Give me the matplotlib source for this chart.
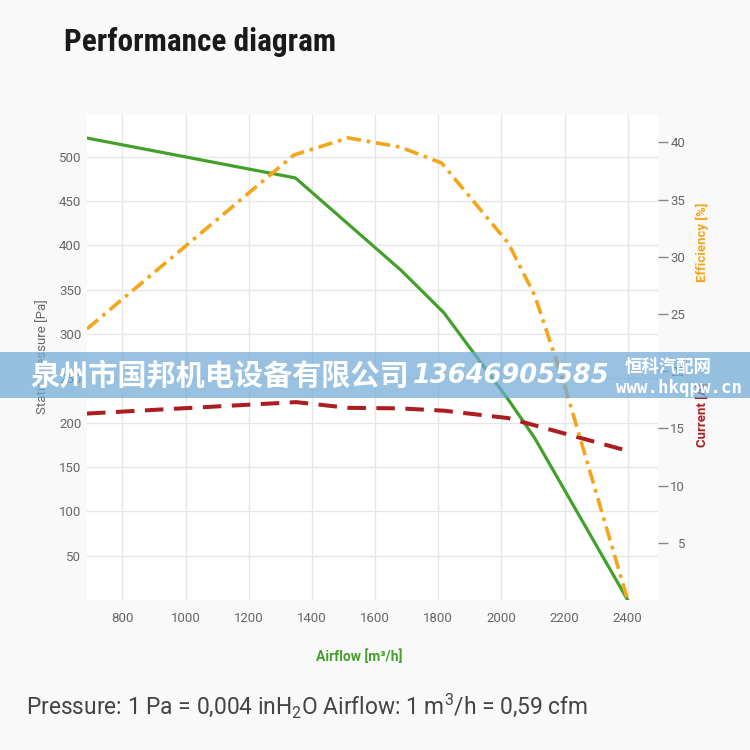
import matplotlib
matplotlib.use("Agg")
import matplotlib.pyplot as plt
from matplotlib import font_manager as fm

def pick(*names):
    avail = {f.name for f in fm.fontManager.ttflist}
    for n in names:
        if n in avail:
            return n
    return "DejaVu Sans"

TITLE_FONT = pick("Liberation Sans Narrow", "Roboto Condensed", "DejaVu Sans")
BASE_FONT = pick("Roboto", "Open Sans", "DejaVu Sans")
plt.rcParams["font.family"] = [BASE_FONT, "DejaVu Sans"]
plt.rcParams["mathtext.fontset"] = "custom"
plt.rcParams["mathtext.rm"] = BASE_FONT

# ---- data ----
pressure_x = [688, 1348, 1682, 1818, 2022, 2105, 2400]
pressure_y = [521, 476, 372, 324, 226, 183, 0]

eff_x = [688, 1343, 1515, 1679, 1811, 2022, 2106, 2200, 2400]
eff_y = [23.7, 38.9, 40.4, 39.6, 38.2, 31.2, 26.6, 18.8, 0]

cur_x = [688, 1350, 1515, 1680, 1818, 2022, 2405]
cur_y = [16.3, 17.3, 16.8, 16.75, 16.55, 15.9, 13.0]

x_ticks = [800, 1000, 1200, 1400, 1600, 1800, 2000, 2200, 2400]
left_ticks = [50, 100, 150, 200, 250, 300, 350, 400, 450, 500]
right_ticks = [5, 10, 15, 20, 25, 30, 35, 40]

GREEN = "#43a02a"
ORANGE = "#f5a519"
RED = "#ad1d1f"
GRAY = "#666666"

fig = plt.figure(figsize=(7.5, 7.5), dpi=100, facecolor="#f9f9fa")
ax = fig.add_axes([87/750, 1-600/750, (658-87)/750, (600-115)/750])
ax.set_facecolor("white")
ax.set_xlim(688, 2496)
ax.set_ylim(0, 547)
ax.set_xticks(x_ticks)
ax.set_yticks(left_ticks)
ax.grid(True, color="#e6e6e6", lw=1)
ax.set_axisbelow(True)
for s in ax.spines.values():
    s.set_visible(False)
ax.tick_params(axis="both", length=0, labelcolor=GRAY, labelsize=9.5)
ax.tick_params(axis="y", pad=4)
ax.tick_params(axis="x", pad=9)

ax2 = ax.twinx()
ax2.set_ylim(0, 42.4)
ax2.set_yticks(right_ticks)
for s in ax2.spines.values():
    s.set_visible(False)
ax2.tick_params(axis="y", length=7, width=1, color="#888888", labelcolor=GRAY,
                labelsize=9.5, pad=12.5)
plt.setp(ax2.get_yticklabels(), ha="right")

ax.plot(pressure_x, pressure_y, color=GREEN, lw=2.3, solid_joinstyle="round", zorder=3)
ax2.plot(eff_x, eff_y, color=ORANGE, lw=2.6, dashes=(4, 1.6, 1, 1.6),
         dash_capstyle="butt", zorder=3)
ax2.plot(cur_x, cur_y, color=RED, lw=2.9, dashes=(4.6, 2.6),
         dash_capstyle="butt", zorder=2)

# axis titles
fig.text(42/750, 1-357/750, "Static pressure [Pa]", rotation=90, ha="center",
         va="center", color=GRAY, fontsize=9.5)
fig.text(702/750, 1-242/750, "Efficiency [%]", rotation=90, ha="center",
         va="center", color=ORANGE, fontsize=9.5, fontweight="bold")
fig.text(702/750, 1-415/750, "Current [A]", rotation=90, ha="center",
         va="center", color=RED, fontsize=9.5, fontweight="bold")
fig.text(359/750, 1-657/750, "Airflow [m³/h]", ha="center", va="center",
         color=GREEN, fontsize=10, fontweight="bold")

fig.text(64/750, 1-42/750, "Performance diagram", ha="left", va="center",
         color="#1a1a1a", fontsize=22.5, fontweight="bold", family=TITLE_FONT)

fig.text(26/750, 1-705/750,
         r"Pressure: 1 Pa = 0,004 inH$_\mathregular{2}$O Airflow: 1 m$^\mathregular{3}$/h = 0,59 cfm",
         ha="left", va="center", color="#444444", fontsize=16.4)

# watermark band
band = plt.Rectangle((0, 1-398/750), 1, 46/750, transform=fig.transFigure,
                     facecolor=(112/255, 170/255, 215/255), alpha=0.72,
                     edgecolor="none", zorder=10)
fig.patches.append(band)
fig.text(30/750, 1-376/750, "泉州市国邦机电设备有限公司", ha="left", va="center",
         color="white", fontsize=21, fontweight="bold",
         family=["Noto Sans CJK SC", "DejaVu Sans"], zorder=11)
fig.text(413/750, 1-376/750, "13646905585", ha="left", va="center",
         color="white", fontsize=18.5, fontweight="bold", fontstyle="italic",
         family="DejaVu Sans", zorder=11)
fig.text(668/750, 1-367/750, "恒科汽配网", ha="center", va="center",
         color="white", fontsize=12.5, fontweight="bold",
         family=["Noto Sans CJK SC", "DejaVu Sans"], zorder=11)
fig.text(679/750, 1-388/750, "www.hkqpw.cn", ha="center", va="center",
         color="white", fontsize=12.5, fontweight="bold",
         family="DejaVu Sans Mono", zorder=11)

fig.savefig("out.png", dpi=100, facecolor=fig.get_facecolor())
